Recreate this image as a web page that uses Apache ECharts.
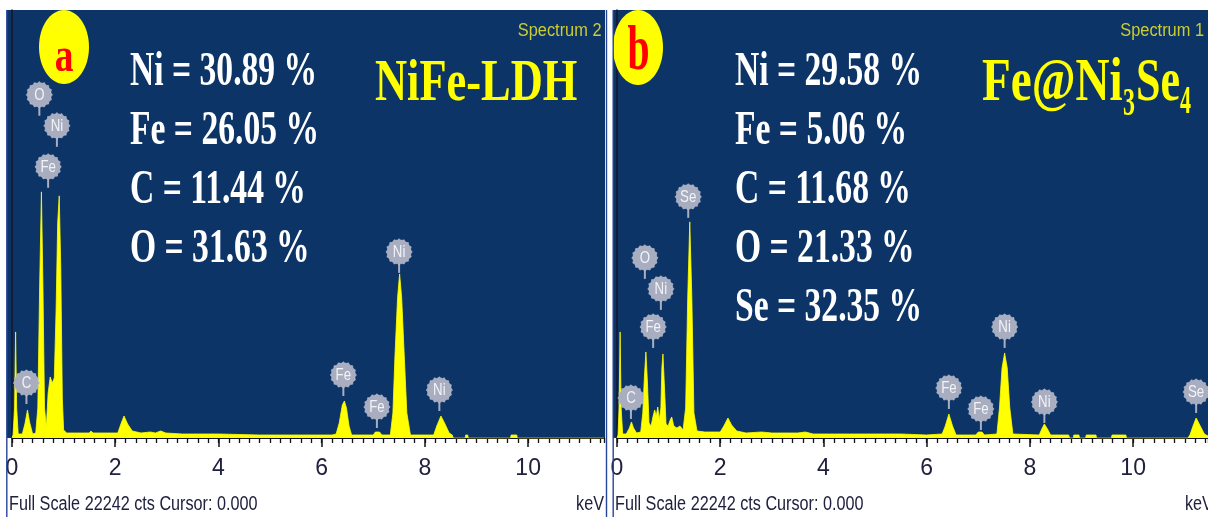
<!DOCTYPE html>
<html>
<head>
<meta charset="utf-8">
<title>EDS spectra: NiFe-LDH and Fe@Ni3Se4</title>
<script src="https://cdn.jsdelivr.net/npm/echarts/dist/echarts.min.js"></script>
<style>
  html, body { margin: 0; padding: 0; background: #ffffff; }
  #chart { width: 1208px; height: 517px; }
</style>
</head>
<body>
<div id="chart"></div>
<script>
// ---- Spectrum (a): NiFe-LDH, energy in keV and counts ----
const ldhKeV = [0.00, 0.02, 0.05, 0.07, 0.09, 0.12, 0.20, 0.25, 0.30, 0.34, 0.40, 0.46, 0.50, 0.535, 0.57, 0.60,
  0.63, 0.665, 0.70, 0.74, 0.78, 0.82, 0.855, 0.885, 0.915, 0.945, 0.975, 1.00, 1.06, 1.50, 1.53, 1.57,
  2.05, 2.11, 2.17, 2.24, 2.33, 2.50, 2.68, 2.78, 2.88, 2.98, 3.30, 4.00, 4.80, 6.20, 6.28, 6.34,
  6.40, 6.44, 6.48, 6.53, 6.58, 7.00, 7.04, 7.12, 7.17, 7.33, 7.38, 7.42, 7.47, 7.51, 7.55, 7.60,
  7.65, 7.72, 8.17, 8.23, 8.31, 8.38, 8.47, 8.53, 8.55, 8.78, 8.79, 8.83, 8.84, 9.66, 9.67, 9.78,
  9.79, 11.47];
const ldhCounts = [0, 156, 1560, 5512, 1560, 208, 208, 728, 1456, 832, 208, 260, 1560, 7800, 12792, 7800,
  1560, 572, 2340, 3172, 2860, 3120, 6760, 11180, 12584, 8840, 2080, 416, 260, 260, 364, 260,
  260, 728, 1144, 728, 364, 260, 312, 260, 364, 260, 208, 208, 156, 156, 208, 780,
  1716, 1924, 1560, 624, 156, 156, 312, 312, 156, 156, 1300, 4264, 7280, 8528, 7280, 4264,
  1300, 156, 156, 624, 1144, 780, 260, 156, 0, 0, 156, 156, 0, 0, 156, 156,
  0, 0];

// ---- Spectrum (b): Fe@Ni3Se4 ----
const selKeV = [0.00, 0.02, 0.04, 0.06, 0.08, 0.11, 0.18, 0.24, 0.28, 0.32, 0.38, 0.46, 0.50, 0.53, 0.56, 0.59,
  0.62, 0.66, 0.70, 0.73, 0.76, 0.79, 0.82, 0.85, 0.87, 0.89, 0.92, 0.95, 0.99, 1.03, 1.06, 1.10,
  1.16, 1.22, 1.28, 1.33, 1.37, 1.41, 1.45, 1.49, 1.55, 1.70, 2.00, 2.07, 2.15, 2.22, 2.32, 2.50,
  2.80, 3.00, 3.50, 3.65, 3.80, 4.50, 5.50, 6.00, 6.30, 6.36, 6.43, 6.50, 6.57, 6.95, 7.00, 7.07,
  7.12, 7.36, 7.41, 7.46, 7.51, 7.56, 7.61, 7.67, 8.18, 8.23, 8.28, 8.34, 8.40, 8.75, 8.77, 8.84,
  8.85, 8.95, 8.96, 9.08, 9.09, 9.28, 9.29, 9.58, 9.59, 9.86, 9.87, 11.06, 11.10, 11.16, 11.22, 11.30,
  11.38, 11.45];
const selCounts = [0, 156, 1560, 5512, 1560, 208, 208, 520, 832, 520, 260, 312, 1300, 3120, 4472, 2860,
  780, 624, 1144, 1456, 1144, 1612, 936, 1560, 3640, 4368, 2600, 728, 624, 936, 1092, 624,
  520, 624, 416, 1560, 7280, 11232, 7280, 1300, 364, 312, 312, 624, 1040, 676, 364, 260,
  312, 260, 260, 312, 208, 208, 208, 156, 208, 624, 1248, 624, 156, 156, 312, 312,
  156, 208, 1560, 3640, 4420, 3640, 1560, 208, 156, 468, 728, 468, 156, 156, 0, 0,
  156, 156, 0, 0, 156, 156, 0, 0, 156, 156, 0, 0, 156, 624, 1040, 624,
  208, 104];

// ---- Element tags above the peaks (energy, height in counts) ----
const ldhTagNames = ['O', 'Ni', 'Fe', 'C', 'Fe', 'Fe', 'Ni', 'Ni'];
const ldhTagKeV = [0.53, 0.87, 0.70, 0.28, 6.42, 7.07, 7.50, 8.28];
const ldhTagCounts = [17836, 16224, 14092, 2860, 3276, 1612, 9672, 2496];

const selTagNames = ['C', 'O', 'Ni', 'Fe', 'Se', 'Fe', 'Fe', 'Ni', 'Ni', 'Se'];
const selTagKeV = [0.27, 0.54, 0.85, 0.70, 1.38, 6.43, 7.05, 7.51, 8.28, 11.22];
const selTagCounts = [2080, 9360, 7748, 5772, 12532, 2600, 1508, 5772, 1872, 2392];

// ---- Composition read-outs ----
const ldhComposition = ['Ni = 30.89 %', 'Fe = 26.05 %', 'C = 11.44 %', 'O = 31.63 %'];
const selComposition = ['Ni = 29.58 %', 'Fe = 5.06 %', 'C = 11.68 %', 'O = 21.33 %', 'Se = 32.35 %'];

// ---- Axis settings ----
const tickLabels = [0, 2, 4, 6, 8, 10];
const fullScale = 22242;
const footerText = 'Full Scale 22242 cts Cursor: 0.000';

const NAVY = '#0c3467';
const YELLOW = '#ffff00';
const TAG = '#a8aec0';
const INK = '#20203f';
const sans = "'Liberation Sans', Arial, sans-serif";
const serif = "'Liberation Serif', 'Times New Roman', serif";

const panels = [
  { left: 12, width: 592, max: 11.47 },
  { left: 617, width: 591, max: 11.45 }
];

function gridOf(p) {
  return { left: p.left, top: 10, width: p.width, height: 428, containLabel: false };
}

// fine 0.2 keV ticks with the axis line
function fineAxis(i, p) {
  return {
    type: 'value', gridIndex: i, position: 'bottom', min: 0, max: p.max, interval: 0.2,
    axisLine: { show: true, onZero: false, lineStyle: { color: '#111118', width: 2 } },
    axisTick: { show: true, length: 5, lineStyle: { color: '#111118', width: 1.3 } },
    axisLabel: { show: false }, splitLine: { show: false }
  };
}
// labelled 2 keV ticks
function mainAxis(i, p) {
  return {
    type: 'value', gridIndex: i, position: 'bottom', min: 0, max: p.max, interval: 2,
    axisLine: { show: false, onZero: false },
    axisTick: { show: true, length: 9, customValues: tickLabels, lineStyle: { color: '#111118', width: 1.5 } },
    axisLabel: {
      show: true, customValues: tickLabels, margin: 19, fontSize: 23, color: INK,
      fontFamily: sans
    },
    splitLine: { show: false }
  };
}
function yAxisOf(i) {
  return {
    type: 'value', gridIndex: i, min: 0, max: fullScale,
    axisLine: { show: true, onZero: false, lineStyle: { color: '#161628', width: 1.5 } },
    axisTick: { show: false }, axisLabel: { show: false }, splitLine: { show: false }
  };
}

function spectrumSeries(i, kev, counts) {
  return {
    type: 'line', xAxisIndex: i * 2, yAxisIndex: i,
    data: kev.map((k, j) => [k, counts[j]]),
    showSymbol: false, smooth: false, silent: true, z: 3,
    lineStyle: { color: YELLOW, width: 0.8 },
    areaStyle: { color: YELLOW, opacity: 1 }
  };
}

function gearPoints(cx, cy) {
  const pts = [];
  const n = 48;
  for (let j = 0; j < n; j++) {
    const a = (j / n) * Math.PI * 2;
    const r = (j % 3 === 0) ? 13.2 : 12.0;
    pts.push([cx + r * Math.cos(a), cy + r * Math.sin(a)]);
  }
  return pts;
}

function tagSeries(i, names, kev, counts) {
  return {
    type: 'custom', xAxisIndex: i * 2, yAxisIndex: i, silent: true, z: 6, clip: false,
    data: kev.map((k, j) => [k, counts[j]]),
    renderItem: function (params, api) {
      const p = api.coord([api.value(0), api.value(1)]);
      return {
        type: 'group',
        children: [
          { type: 'line', shape: { x1: p[0], y1: p[1] + 10, x2: p[0], y2: p[1] + 21 },
            style: { stroke: TAG, lineWidth: 2 } },
          { type: 'polygon', shape: { points: gearPoints(p[0], p[1]) },
            style: { fill: TAG, stroke: 'rgba(200,205,220,0.6)', lineWidth: 0.8 } },
          { type: 'text', x: p[0], y: p[1] + 0.5, scaleX: 0.78,
            style: { text: names[params.dataIndex], x: 0, y: 0, align: 'center', verticalAlign: 'middle',
              fill: '#f2f3f8', fontSize: 17, fontFamily: sans } }
        ]
      };
    }
  };
}

// ---- decorations: panels, frames, captions ----
const graphics = [];
graphics.push({ type: 'rect', z: -10, shape: { x: 7, y: 10, width: 598, height: 428 }, style: { fill: NAVY } });
graphics.push({ type: 'rect', z: -10, shape: { x: 613, y: 10, width: 595, height: 428 }, style: { fill: NAVY } });
[6.8, 606.5, 613.2].forEach(function (xx) {
  graphics.push({ type: 'line', z: 20, shape: { x1: xx, y1: 10, x2: xx, y2: 517 },
    style: { stroke: '#26449a', lineWidth: 1.4 } });
});

function scaledText(x, y, text, font, fill, sx, align) {
  return { type: 'text', z: 10, x: x, y: y, scaleX: sx,
    style: { text: text, x: 0, y: 0, font: font, fill: fill, align: align || 'left', verticalAlign: 'middle' } };
}

// panel letters
graphics.push({ type: 'ellipse', z: 9, shape: { cx: 64, cy: 47, rx: 25, ry: 37 }, style: { fill: YELLOW } });
graphics.push(scaledText(64, 59, 'a', 'bold 48px ' + serif, '#ff0000', 0.78, 'center'));
graphics.push({ type: 'ellipse', z: 9, shape: { cx: 638, cy: 47.5, rx: 25, ry: 37.5 }, style: { fill: YELLOW } });
graphics.push(scaledText(638.5, 52, 'b', 'bold 64px ' + serif, '#ff0000', 0.62, 'center'));

// composition lines
ldhComposition.forEach(function (t, j) {
  graphics.push(scaledText(130, 73 + j * 58.9, t, 'bold 48px ' + serif, '#ffffff', 0.70));
});
selComposition.forEach(function (t, j) {
  graphics.push(scaledText(735, 73 + j * 58.9, t, 'bold 48px ' + serif, '#ffffff', 0.70));
});

// sample names
graphics.push(scaledText(375, 84, 'NiFe-LDH', 'bold 60px ' + serif, YELLOW, 0.74));
// Fe@Ni3Se4 with lowered subscripts
graphics.push(scaledText(982, 84, 'Fe@Ni', 'bold 62px ' + serif, YELLOW, 0.76));
graphics.push(scaledText(1123, 105, '3', 'bold 40px ' + serif, YELLOW, 0.6));
graphics.push(scaledText(1136, 84, 'Se', 'bold 62px ' + serif, YELLOW, 0.71));
graphics.push(scaledText(1180, 103, '4', 'bold 40px ' + serif, YELLOW, 0.55));

// spectrum titles
graphics.push(scaledText(601.5, 31, 'Spectrum 2', '18px ' + sans, '#cccc33', 0.91, 'right'));
graphics.push(scaledText(1204, 31, 'Spectrum 1', '18px ' + sans, '#cccc33', 0.91, 'right'));

// footers
graphics.push(scaledText(9, 504, footerText, '20px ' + sans, INK, 0.81));
graphics.push(scaledText(604, 504, 'keV', '20px ' + sans, INK, 0.81, 'right'));
graphics.push(scaledText(615, 504, footerText, '20px ' + sans, INK, 0.81));
graphics.push(scaledText(1185, 504, 'keV', '20px ' + sans, INK, 0.81));

const chart = echarts.init(document.getElementById('chart'), null, { renderer: 'canvas' });
chart.setOption({
  animation: false,
  backgroundColor: '#ffffff',
  grid: panels.map(gridOf),
  xAxis: [fineAxis(0, panels[0]), mainAxis(0, panels[0]), fineAxis(1, panels[1]), mainAxis(1, panels[1])],
  yAxis: [yAxisOf(0), yAxisOf(1)],
  series: [
    spectrumSeries(0, ldhKeV, ldhCounts),
    spectrumSeries(1, selKeV, selCounts),
    tagSeries(0, ldhTagNames, ldhTagKeV, ldhTagCounts),
    tagSeries(1, selTagNames, selTagKeV, selTagCounts)
  ],
  graphic: { elements: graphics }
});
</script>
</body>
</html>
